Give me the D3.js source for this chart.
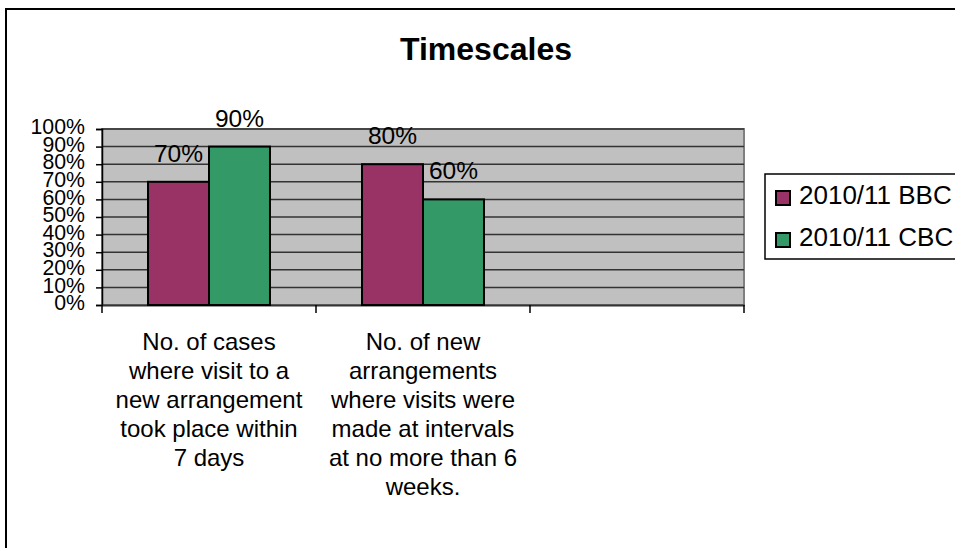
<!DOCTYPE html>
<html>
<head>
<meta charset="utf-8">
<script src="https://cdn.jsdelivr.net/npm/d3@7"></script>
<style>
  body { margin: 0; background: #fff; }
  svg { display: block; font-family: "Liberation Sans", Arial, sans-serif; }
</style>
</head>
<body>
<svg id="chart" width="955" height="548"></svg>
<script>
// chart values
var categories = ["cases7days", "visits6weeks", "blank"];
var categoryLines = [
  ["No. of cases", "where visit to a", "new arrangement", "took place within", "7 days"],
  ["No. of new", "arrangements", "where visits were", "made at intervals", "at no more than 6", "weeks."],
  []
];
var seriesNames = ["2010/11 BBC", "2010/11 CBC"];
var bbcValues = [0.7, 0.8, null];
var cbcValues = [0.9, 0.6, null];
var seriesColors = ["#993366", "#339966"];
var yTicks = [0, 0.1, 0.2, 0.3, 0.4, 0.5, 0.6, 0.7, 0.8, 0.9, 1];

var width = 955,
    height = 548,
    plotLeft = 102,
    plotRight = 744,
    plotTop = 129,
    plotBottom = 305,
    fmt = d3.format(".0%");

var svg = d3.select("#chart");

// outer chart border
svg.append("rect")
    .attr("x", 6)
    .attr("y", 9)
    .attr("width", width + 10)
    .attr("height", height + 10)
    .style("fill", "#fff")
    .style("stroke", "#000")
    .style("stroke-width", 2);

svg.append("text")
    .attr("x", 486)
    .attr("y", 60)
    .attr("text-anchor", "middle")
    .style("font-size", "32px")
    .style("font-weight", "bold")
    .text("Timescales");

var x0 = d3.scaleBand()
    .domain(categories)
    .range([plotLeft, plotRight]);

var groupWidth = x0.bandwidth() * 0.57;
var x1 = d3.scaleBand()
    .domain(seriesNames)
    .range([(x0.bandwidth() - groupWidth) / 2, (x0.bandwidth() + groupWidth) / 2]);

var y = d3.scaleLinear()
    .domain([0, 1])
    .range([plotBottom, plotTop]);

// plot background
svg.append("rect")
    .attr("x", plotLeft)
    .attr("y", plotTop)
    .attr("width", plotRight - plotLeft)
    .attr("height", plotBottom - plotTop)
    .style("fill", "#c0c0c0")
    .style("stroke", "#808080")
    .style("stroke-width", 2);

// gridlines
svg.append("g")
    .selectAll("line")
    .data(yTicks.slice(1))
    .join("line")
    .attr("x1", plotLeft)
    .attr("x2", plotRight)
    .attr("y1", function(d) { return y(d); })
    .attr("y2", function(d) { return y(d); })
    .style("stroke", "#333")
    .style("stroke-width", 1.5);

// y axis
var yAxis = svg.append("g")
    .attr("transform", "translate(" + plotLeft + ",0)")
    .call(d3.axisLeft(y).tickValues(yTicks).tickFormat(fmt).tickSize(6).tickPadding(11));
yAxis.select(".domain").style("stroke", "#000").style("stroke-width", 1.5);
yAxis.selectAll(".tick line").style("stroke", "#000").style("stroke-width", 1.5);
yAxis.selectAll("text")
    .style("font-family", "'Liberation Sans', Arial, sans-serif")
    .style("font-size", "21.3px")
    .attr("dy", "0.22em")
    .style("fill", "#000");

// x axis
var xAxis = svg.append("g")
    .attr("transform", "translate(0," + plotBottom + ")")
    .call(d3.axisBottom(x0).tickSize(0).tickFormat(""));
xAxis.select(".domain").style("stroke", "#333").style("stroke-width", 2);
xAxis.selectAll(".tick").remove();

// category boundary ticks
var boundaries = categories.map(function(c) { return x0(c); }).concat([plotRight]);
xAxis.selectAll("line.boundary")
    .data(boundaries)
    .join("line")
    .attr("class", "boundary")
    .attr("x1", function(d) { return d; })
    .attr("x2", function(d) { return d; })
    .attr("y1", 0)
    .attr("y2", 8)
    .style("stroke", "#000")
    .style("stroke-width", 1.5);

// category labels
categories.forEach(function(c, i) {
  svg.append("text")
      .attr("text-anchor", "middle")
      .style("font-size", "24px")
      .selectAll("tspan")
      .data(categoryLines[i])
      .join("tspan")
      .attr("x", x0(c) + x0.bandwidth() / 2)
      .attr("y", function(d, j) { return 350 + j * 29; })
      .text(function(d) { return d; });
});

// bars
var seriesValues = [bbcValues, cbcValues];
var barData = [];
categories.forEach(function(c, i) {
  seriesNames.forEach(function(s, k) {
    if (seriesValues[k][i] != null) {
      barData.push({ cat: c, series: s, value: seriesValues[k][i], color: seriesColors[k] });
    }
  });
});

svg.append("g")
    .selectAll("rect")
    .data(barData)
    .join("rect")
    .attr("x", function(d) { return x0(d.cat) + x1(d.series); })
    .attr("y", function(d) { return y(d.value); })
    .attr("width", x1.bandwidth())
    .attr("height", function(d) { return y(0) - y(d.value); })
    .style("fill", function(d) { return d.color; })
    .style("stroke", "#000")
    .style("stroke-width", 2);

svg.append("g")
    .selectAll("text")
    .data(barData)
    .join("text")
    .attr("x", function(d) { return x0(d.cat) + x1(d.series) + x1.bandwidth() / 2; })
    .attr("y", function(d) { return y(d.value) - 20; })
    .attr("text-anchor", "middle")
    .style("font-size", "24.5px")
    .text(function(d) { return fmt(d.value); });

// legend
var legend = svg.append("g");
legend.append("rect")
    .attr("x", 765)
    .attr("y", 174)
    .attr("width", 220)
    .attr("height", 85)
    .style("fill", "#fff")
    .style("stroke", "#000")
    .style("stroke-width", 1.5);

var items = legend.selectAll("g.item")
    .data(seriesNames)
    .join("g")
    .attr("class", "item")
    .attr("transform", function(d, i) { return "translate(0," + (i * 42) + ")"; });

items.append("rect")
    .attr("x", 776)
    .attr("y", 191)
    .attr("width", 14)
    .attr("height", 14)
    .style("fill", function(d, i) { return seriesColors[i]; })
    .style("stroke", "#000")
    .style("stroke-width", 2);

items.append("text")
    .attr("x", 799)
    .attr("y", 204)
    .style("font-size", "26px")
    .text(function(d) { return d; });
</script>
</body>
</html>
